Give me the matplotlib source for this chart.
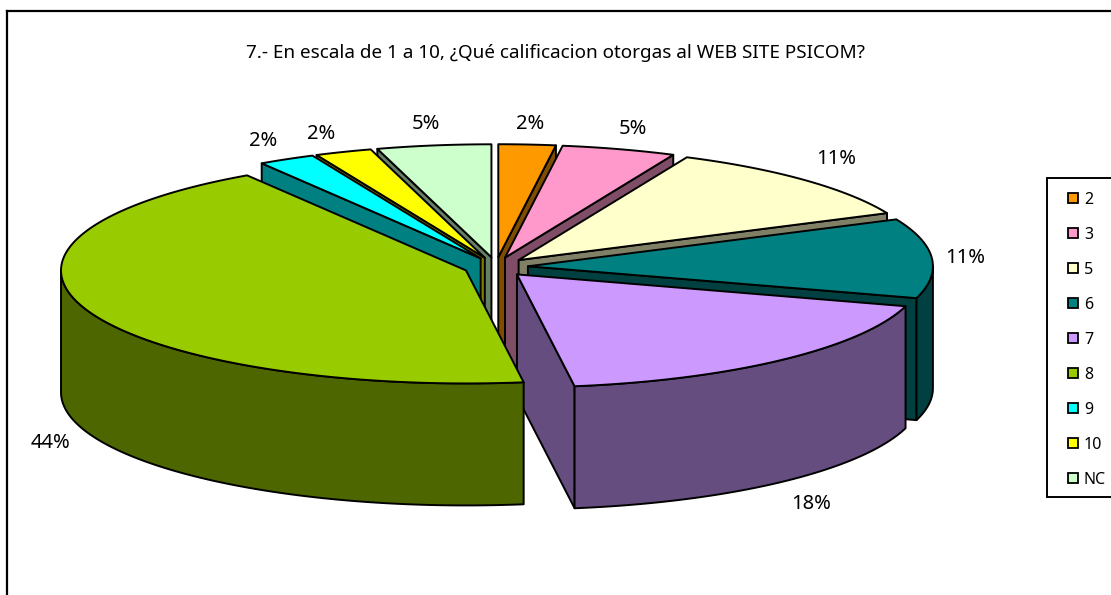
import numpy as np
import matplotlib
matplotlib.use("Agg")
import matplotlib.pyplot as plt
from matplotlib.patches import Polygon, Patch, Rectangle

categories = ["2", "3", "5", "6", "7", "8", "9", "10", "NC"]
counts = [1, 2, 5, 5, 8, 19, 1, 1, 2]
percent_labels = ["2%", "5%", "11%", "11%", "18%", "44%", "2%", "2%", "5%"]
colors = ["#FF9900", "#FF99CC", "#FFFFCC", "#008080", "#CC99FF",
          "#99CC00", "#00FFFF", "#FFFF00", "#CCFFCC"]
title = "7.- En escala de 1 a 10, ¿Qué calificacion otorgas al WEB SITE PSICOM?"

# projection of the tilted pie, in figure pixels
CX, CY = 496.0, 267.0
RX, RY = 405.0, 113.0
EX, EY = 32.0, 9.8
DEPTH = 122.0
DRAW_ORDER = [8, 0, 1, 7, 6, 2, 3, 4, 5]
LABEL_OFFSETS = [(3, 21), (14, 20), (31, 21), (33, 0), (29, -144), (-36, -133), (-23, 18), (-22, 18), (-8, 21)]

FONT = ["Noto Sans", "DejaVu Sans"]
plt.rcParams["font.family"] = FONT

fig = plt.figure(figsize=(11.11, 5.95), dpi=100, facecolor="white")
ax = fig.add_axes([0, 0, 1, 1])
ax.set_xlim(0, 1111)
ax.set_ylim(595, 0)
ax.axis("off")

# open chart frame: only the top and left sides fall inside the picture
ax.plot([6.5, 1111], [11, 11], color="black", lw=1.6, zorder=1, solid_capstyle="projecting")
ax.plot([6.5, 6.5], [11, 595], color="black", lw=1.6, zorder=1, solid_capstyle="projecting")

fracs = np.array(counts, dtype=float)
edges = np.concatenate([[0.0], np.cumsum(fracs)]) / fracs.sum() * 2 * np.pi


def shade(hex_color):
    return tuple(c * 0.5 for c in matplotlib.colors.to_rgb(hex_color))


def arc(ax0, ay0, t0, t1):
    t = np.linspace(t0, t1, max(3, int(abs(t1 - t0) * 80)))
    return np.column_stack([ax0 + RX * np.sin(t), ay0 - RY * np.cos(t)])


z = 3
for i in DRAW_ORDER:
    t0, t1 = edges[i], edges[i + 1]
    mid = (t0 + t1) / 2
    ax0 = CX + EX * np.sin(mid)
    ay0 = CY - EY * np.cos(mid)
    side = shade(colors[i])
    top = arc(ax0, ay0, t0, t1)
    apex = np.array([ax0, ay0])
    down = np.array([0, DEPTH])
    kw = dict(edgecolor="black", lw=1.4, joinstyle="round")

    # radial walls, only those turned towards the viewer
    if np.sin(t0) < 0:
        ax.add_patch(Polygon([apex, top[0], top[0] + down, apex + down], facecolor=side, zorder=z, **kw))
    if np.sin(t1) > 0:
        ax.add_patch(Polygon([apex, top[-1], top[-1] + down, apex + down], facecolor=side, zorder=z, **kw))
    # outer wall, front half only
    a0, a1 = max(t0, np.pi / 2), min(t1, 3 * np.pi / 2)
    if a1 > a0:
        front = arc(ax0, ay0, a0, a1)
        ax.add_patch(Polygon(np.vstack([front, (front + down)[::-1]]), facecolor=side, zorder=z, **kw))
    ax.add_patch(Polygon(np.vstack([apex, top]), facecolor=colors[i], zorder=z, **kw))
    z += 1

    outer = (ax0 + RX * np.sin(mid), ay0 - RY * np.cos(mid))
    ax.annotate(percent_labels[i], xy=outer, xytext=LABEL_OFFSETS[i], textcoords="offset pixels",
                ha="center", va="center", fontsize=14.5, color="black", zorder=30)

ax.text(555.5, 53, title, ha="center", va="center", fontsize=13.6, color="black", zorder=30)

ax.add_patch(Rectangle((1047, 178), 100, 319, facecolor="white", edgecolor="black", lw=1.4, zorder=19))
handles = [Patch(facecolor=c, edgecolor="black", lw=1.3) for c in colors]
leg = ax.legend(handles, categories, loc="upper left", bbox_to_anchor=(1068, 191.5),
                bbox_transform=ax.transData, fontsize=11.5, frameon=False, borderaxespad=0, borderpad=0,
                labelspacing=1.19, handlelength=0.6, handleheight=0.6, handletextpad=0.4)
leg.set_zorder(20)

fig.savefig("out.png", dpi=100)
